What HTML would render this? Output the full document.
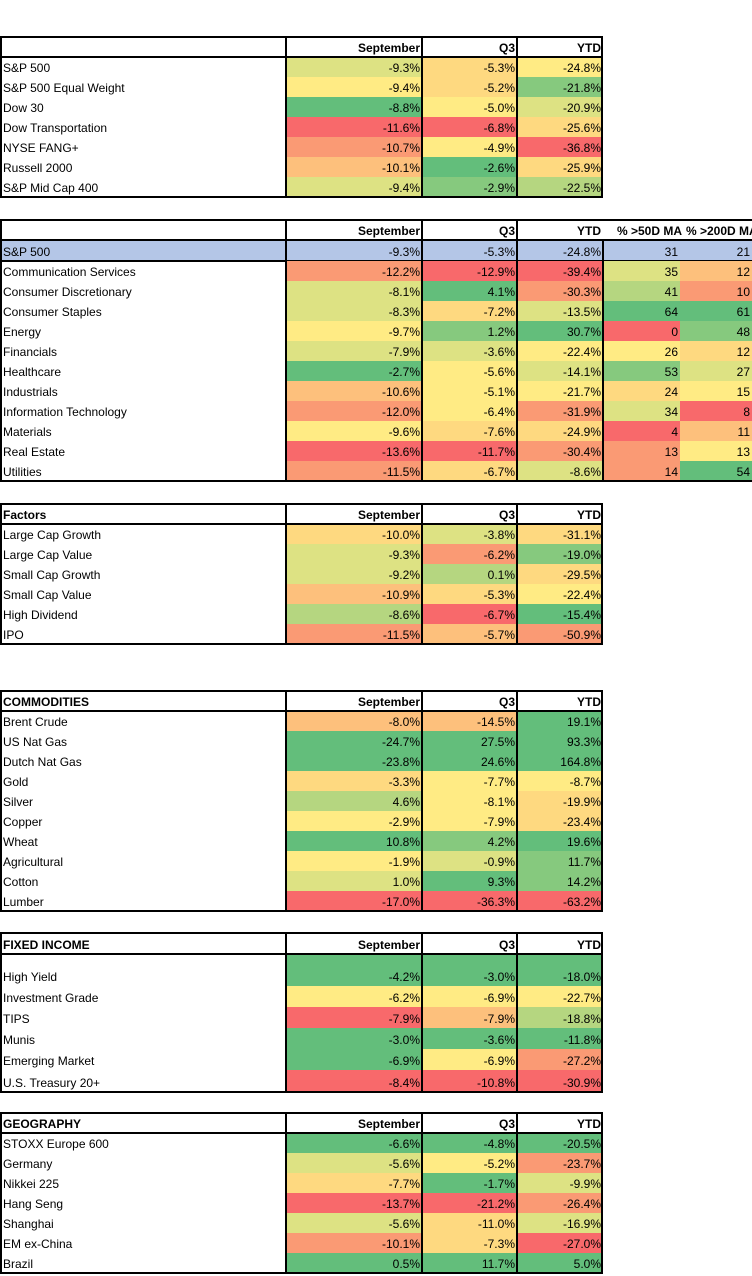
<!DOCTYPE html>
<html><head><meta charset="utf-8">
<style>
body{margin:0;width:752px;height:1276px;background:#fff;position:relative;overflow:hidden;font-family:"Liberation Sans",sans-serif;font-size:12px;color:#000}
.c{position:absolute;box-sizing:border-box;white-space:nowrap;overflow:hidden;line-height:14px;display:flex;align-items:flex-end;padding:0 2px 2px 3px}
.r{justify-content:flex-end}
.b{font-weight:bold}
.ln{position:absolute;background:#000}
</style></head><body>
<script>
const PAL={G:'#63BE7B',g1:'#86C97E',g2:'#B5D680',Y1:'#DDE283',Y:'#FFEB84',o1:'#FED980',o2:'#FDC07C',O:'#FA9A74',R:'#F8696B',B:'#B4C6E7'};
const colsX=[0,286,422,517,603,680,752];
const sections=[
 {top:37,hh:20,title:'',head:['September','Q3','YTD'],rh:[20,20,20,20,20,20,20],
  labels:['S&P 500','S&P 500 Equal Weight','Dow 30','Dow Transportation','NYSE FANG+','Russell 2000','S&P Mid Cap 400'],
  values:[['-9.3%','-5.3%','-24.8%'],['-9.4%','-5.2%','-21.8%'],['-8.8%','-5.0%','-20.9%'],['-11.6%','-6.8%','-25.6%'],['-10.7%','-4.9%','-36.8%'],['-10.1%','-2.6%','-25.9%'],['-9.4%','-2.9%','-22.5%']],
  colors:[['Y1','o1','Y'],['Y','o1','g1'],['G','Y','Y1'],['R','R','o1'],['O','Y','R'],['o2','G','o1'],['Y1','g1','g2']]},
 {top:220,hh:20,title:'',head:['September','Q3','YTD','% >50D MA','% >200D MA'],rh:[21,20,20,20,20,20,20,20,20,20,20,20],
  labels:['S&P 500','Communication Services','Consumer Discretionary','Consumer Staples','Energy','Financials','Healthcare','Industrials','Information Technology','Materials','Real Estate','Utilities'],
  values:[['-9.3%','-5.3%','-24.8%','31','21'],['-12.2%','-12.9%','-39.4%','35','12'],['-8.1%','4.1%','-30.3%','41','10'],['-8.3%','-7.2%','-13.5%','64','61'],['-9.7%','1.2%','30.7%','0','48'],['-7.9%','-3.6%','-22.4%','26','12'],['-2.7%','-5.6%','-14.1%','53','27'],['-10.6%','-5.1%','-21.7%','24','15'],['-12.0%','-6.4%','-31.9%','34','8'],['-9.6%','-7.6%','-24.9%','4','11'],['-13.6%','-11.7%','-30.4%','13','13'],['-11.5%','-6.7%','-8.6%','14','54']],
  colors:[['B','B','B','B','B'],['O','R','R','Y1','o2'],['Y1','G','O','g2','O'],['Y1','o1','Y1','G','G'],['Y','g1','G','R','g1'],['Y1','Y1','Y','Y','o1'],['G','Y','Y1','g1','Y1'],['o2','Y','Y','o1','Y'],['O','Y','O','Y1','R'],['Y','o1','o1','R','o2'],['R','R','O','O','Y'],['O','o1','Y1','O','G']]},
 {top:504,hh:20,title:'Factors',head:['September','Q3','YTD'],rh:[20,20,20,20,20,20],
  labels:['Large Cap Growth','Large Cap Value','Small Cap Growth','Small Cap Value','High Dividend','IPO'],
  values:[['-10.0%','-3.8%','-31.1%'],['-9.3%','-6.2%','-19.0%'],['-9.2%','0.1%','-29.5%'],['-10.9%','-5.3%','-22.4%'],['-8.6%','-6.7%','-15.4%'],['-11.5%','-5.7%','-50.9%']],
  colors:[['o1','Y1','o1'],['Y1','O','g1'],['Y1','g2','o1'],['o2','o1','Y'],['g2','R','G'],['O','o2','O']]},
 {top:691,hh:20,title:'COMMODITIES',head:['September','Q3','YTD'],rh:[20,20,20,20,20,20,20,20,20,20],
  labels:['Brent Crude','US Nat Gas','Dutch Nat Gas','Gold','Silver','Copper','Wheat','Agricultural','Cotton','Lumber'],
  values:[['-8.0%','-14.5%','19.1%'],['-24.7%','27.5%','93.3%'],['-23.8%','24.6%','164.8%'],['-3.3%','-7.7%','-8.7%'],['4.6%','-8.1%','-19.9%'],['-2.9%','-7.9%','-23.4%'],['10.8%','4.2%','19.6%'],['-1.9%','-0.9%','11.7%'],['1.0%','9.3%','14.2%'],['-17.0%','-36.3%','-63.2%']],
  colors:[['o2','o2','G'],['G','G','G'],['G','G','G'],['o1','Y','Y'],['g2','Y','o1'],['Y','Y','o1'],['G','g1','G'],['Y','Y1','g1'],['Y1','G','g1'],['R','R','R']]},
 {top:933,hh:21,title:'FIXED INCOME',head:['September','Q3','YTD'],rh:[32,21,21,21,21,22],
  labels:['High Yield','Investment Grade','TIPS','Munis','Emerging Market','U.S. Treasury 20+'],
  values:[['-4.2%','-3.0%','-18.0%'],['-6.2%','-6.9%','-22.7%'],['-7.9%','-7.9%','-18.8%'],['-3.0%','-3.6%','-11.8%'],['-6.9%','-6.9%','-27.2%'],['-8.4%','-10.8%','-30.9%']],
  colors:[['G','G','G'],['Y','Y','Y'],['R','o2','g2'],['G','G','G'],['G','Y','O'],['R','R','R']]},
 {top:1113,hh:20,title:'GEOGRAPHY',head:['September','Q3','YTD'],rh:[20,20,20,20,20,20,20],
  labels:['STOXX Europe 600','Germany','Nikkei 225','Hang Seng','Shanghai','EM ex-China','Brazil'],
  values:[['-6.6%','-4.8%','-20.5%'],['-5.6%','-5.2%','-23.7%'],['-7.7%','-1.7%','-9.9%'],['-13.7%','-21.2%','-26.4%'],['-5.6%','-11.0%','-16.9%'],['-10.1%','-7.3%','-27.0%'],['0.5%','11.7%','5.0%']],
  colors:[['G','G','G'],['Y1','Y','O'],['o1','G','Y1'],['R','R','O'],['Y1','o1','Y1'],['O','o1','R'],['G','G','G']]}
];
function cell(x,y,w,h,txt,cls,bg,name){
  const d=document.createElement('div');
  d.className='c '+cls;
  d.style.left=x+'px';d.style.top=y+'px';d.style.width=w+'px';d.style.height=h+'px';
  if(bg)d.style.background=bg;
  d.textContent=txt;
  
  
  document.body.appendChild(d);
  return d;
}
function line(x,y,w,h){
  const d=document.createElement('div');d.className='ln';
  d.style.left=x+'px';d.style.top=y+'px';d.style.width=w+'px';d.style.height=h+'px';
  
  
  document.body.appendChild(d);
}
sections.forEach((s,si)=>{
  const n=s.head.length;
  const rEdge=n===5?752:colsX[4];
  cell(0,s.top,colsX[1],s.hh,s.title,'b',null,'section-title');
  s.head.forEach((h,j)=>{
    if(n===5&&j===4){
      const d=cell(colsX[5]+6,s.top,colsX[6]-colsX[5]-6,s.hh,h,'b',null,'column-header');
      d.style.padding='0 0 2px 0';
    } else if(n===5&&j===3){
      cell(colsX[4],s.top,colsX[5]-colsX[4]+4,s.hh,h,'r b',null,'column-header');
    } else cell(colsX[j+1],s.top,colsX[j+2]-colsX[j+1],s.hh,h,'r b',null,'column-header');
  });
  let y=s.top+s.hh;
  s.labels.forEach((lab,i)=>{
    const h=s.rh[i];
    const rowBg=s.colors[i][0]==='B'?PAL.B:null;
    cell(0,y,colsX[1],h,lab,'',rowBg,'row-label');
    s.values[i].forEach((v,j)=>cell(colsX[j+1],y,colsX[j+2]-colsX[j+1],h,v,'r',PAL[s.colors[i][j]],'value-cell'));
    if(n===5&&i===0){line(0,y+h-1,752,2);}
    y+=h;
  });
  const bottom=y;
  line(0,s.top-1,rEdge,2);
  line(0,bottom-1,rEdge,2);
  line(0,s.top-1,2,bottom-s.top+1);
  if(n!==5) line(rEdge-2,s.top-1,2,bottom-s.top+1);
  line(0,s.top+s.hh-1,rEdge,2);
  for(let j=1;j<=3;j++){line(colsX[j]-1,s.top-1,2,bottom-s.top+1);}
  if(n===5){line(colsX[4]-1,s.top+s.hh-1,2,bottom-s.top-s.hh+1);}
});
</script>
</body></html>
